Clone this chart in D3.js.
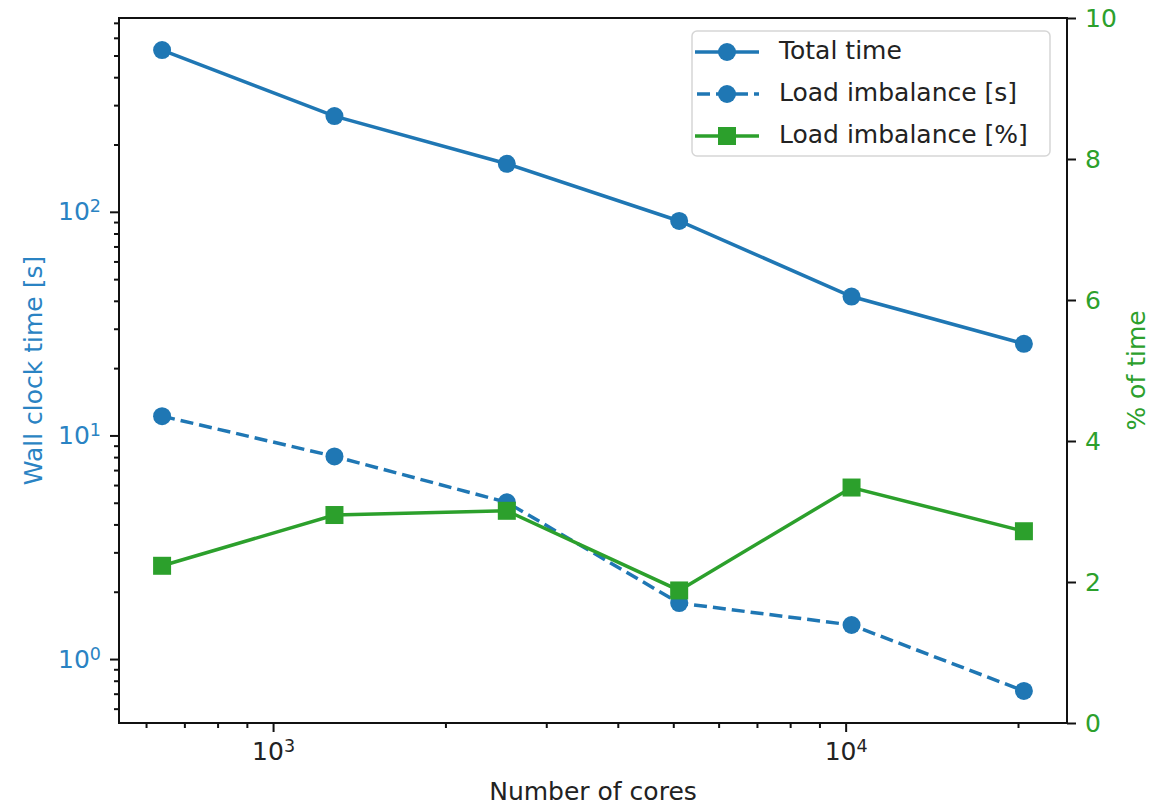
<!DOCTYPE html>
<html>
<head>
<meta charset="utf-8">
<script src="https://cdn.jsdelivr.net/npm/d3@7"></script>
<style>
  body { margin: 0; background: #fff; }
  text { font-family: "DejaVu Sans", sans-serif; }
</style>
</head>
<body>
<div class="chart"></div>
<script>
// ---------------------------------- DATA
var cores = [640, 1280, 2560, 5120, 10240, 20480];
var totalTime = [529, 268, 164, 91, 41.8, 25.7];
var imbalanceSec = [12.2, 8.06, 5.02, 1.78, 1.42, 0.72];
var imbalancePct = [2.23, 2.95, 3.01, 1.88, 3.34, 2.72];
var seriesNames = ["Total time", "Load imbalance [s]", "Load imbalance [%]"];
var xMajorTicks = [1000, 10000];
var leftMajorTicks = [1, 10, 100];
var rightTicks = [0, 2, 4, 6, 8, 10];

// ---------------------------------- VARIABLES
var width = 1153, height = 806;
var plot = {left: 119, right: 1067, top: 18, bottom: 723};
var blue = "#1f77b4", blueText = "#2a83c3", green = "#2ca02c";
var fontSize = 25;

// matplotlib-like 5% margins in log space
function logPad(vals) {
  var lo = Math.log10(d3.min(vals)), hi = Math.log10(d3.max(vals));
  var p = (hi - lo) * 0.05;
  return [Math.pow(10, lo - p), Math.pow(10, hi + p)];
}

var svg = d3.select(".chart").append("svg")
  .attr("width", width)
  .attr("height", height);

// ---------------------------------- SCALES
var x = d3.scaleLog().domain(logPad(cores)).range([plot.left, plot.right]);
var y = d3.scaleLog().domain(logPad(totalTime.concat(imbalanceSec))).range([plot.bottom, plot.top]);
var y2 = d3.scaleLinear().domain([0, 10]).range([plot.bottom, plot.top]);

function isPow10(v) {
  var l = Math.log10(v);
  return Math.abs(l - Math.round(l)) < 1e-9;
}

function superLabel(sel) {
  sel.each(function(d) {
    var t = d3.select(this);
    t.text("");
    t.append("tspan").text("10");
    t.append("tspan")
      .attr("dy", "-0.45em")
      .attr("font-size", "0.7em")
      .text(Math.round(Math.log10(d)));
  });
}

// ---------------------------------- AXES
// x axis major
var xAxisG = svg.append("g")
  .attr("transform", "translate(0," + plot.bottom + ")")
  .call(d3.axisBottom(x).tickValues(xMajorTicks).tickSize(9).tickPadding(10).tickSizeOuter(0));
xAxisG.selectAll("text").attr("fill", "#222").attr("font-size", fontSize).call(superLabel);
// x axis minor
svg.append("g")
  .attr("transform", "translate(0," + plot.bottom + ")")
  .call(d3.axisBottom(x).tickValues(x.ticks().filter(function(d){ return !isPow10(d); }))
    .tickSize(5).tickFormat("").tickSizeOuter(0));

// left axis major
var yAxisG = svg.append("g")
  .attr("transform", "translate(" + plot.left + ",0)")
  .call(d3.axisLeft(y).tickValues(leftMajorTicks).tickSize(9).tickPadding(9).tickSizeOuter(0));
yAxisG.selectAll("text").attr("fill", blueText).attr("font-size", fontSize).call(superLabel);
// left axis minor
svg.append("g")
  .attr("transform", "translate(" + plot.left + ",0)")
  .call(d3.axisLeft(y).tickValues(y.ticks().filter(function(d){ return !isPow10(d); }))
    .tickSize(5).tickFormat("").tickSizeOuter(0));

// right axis
var y2AxisG = svg.append("g")
  .attr("transform", "translate(" + plot.right + ",0)")
  .call(d3.axisRight(y2).tickValues(rightTicks).tickSize(9).tickPadding(9).tickSizeOuter(0));
y2AxisG.selectAll("text").attr("fill", green).attr("font-size", fontSize);

svg.selectAll(".domain").remove();
svg.selectAll(".tick line").attr("stroke", "#111").attr("stroke-width", 2);

// frame
svg.append("rect")
  .attr("x", plot.left).attr("y", plot.top)
  .attr("width", plot.right - plot.left).attr("height", plot.bottom - plot.top)
  .attr("fill", "none").attr("stroke", "#111").attr("stroke-width", 2);

// ---------------------------------- LINES
var lineLeft = d3.line()
  .x(function(d, i){ return x(cores[i]); })
  .y(function(d){ return y(d); });
var lineRight = d3.line()
  .x(function(d, i){ return x(cores[i]); })
  .y(function(d){ return y2(d); });

var plotG = svg.append("g");

plotG.append("path")
  .attr("d", lineLeft(totalTime))
  .attr("fill", "none").attr("stroke", blue).attr("stroke-width", 3.5);
plotG.selectAll("circle.total")
  .data(totalTime)
  .enter().append("circle")
    .attr("class", "total")
    .attr("cx", function(d, i){ return x(cores[i]); })
    .attr("cy", function(d){ return y(d); })
    .attr("r", 9)
    .attr("fill", blue);

plotG.append("path")
  .attr("d", lineLeft(imbalanceSec))
  .attr("fill", "none").attr("stroke", blue).attr("stroke-width", 3.5)
  .attr("stroke-dasharray", "13,6");
plotG.selectAll("circle.imb")
  .data(imbalanceSec)
  .enter().append("circle")
    .attr("class", "imb")
    .attr("cx", function(d, i){ return x(cores[i]); })
    .attr("cy", function(d){ return y(d); })
    .attr("r", 9)
    .attr("fill", blue);

plotG.append("path")
  .attr("d", lineRight(imbalancePct))
  .attr("fill", "none").attr("stroke", green).attr("stroke-width", 3.5);
plotG.selectAll("rect.pct")
  .data(imbalancePct)
  .enter().append("rect")
    .attr("class", "pct")
    .attr("x", function(d, i){ return x(cores[i]) - 9; })
    .attr("y", function(d){ return y2(d) - 9; })
    .attr("width", 18).attr("height", 18)
    .attr("fill", green);

// ---------------------------------- AXIS LABELS
svg.append("text")
  .attr("x", (plot.left + plot.right) / 2).attr("y", 800)
  .attr("text-anchor", "middle")
  .attr("font-size", fontSize).attr("fill", "#222")
  .text("Number of cores");

svg.append("text")
  .attr("transform", "translate(35," + (plot.top + plot.bottom) / 2 + ") rotate(-90)")
  .attr("text-anchor", "middle").attr("dominant-baseline", "middle")
  .attr("font-size", fontSize).attr("fill", blueText)
  .text("Wall clock time [s]");

svg.append("text")
  .attr("transform", "translate(1138," + (plot.top + plot.bottom) / 2 + ") rotate(-90)")
  .attr("text-anchor", "middle").attr("dominant-baseline", "middle")
  .attr("font-size", fontSize).attr("fill", green)
  .text("% of time");

// ---------------------------------- LEGEND
var legend = svg.append("g").attr("transform", "translate(692,31)");
legend.append("rect")
  .attr("width", 358).attr("height", 125).attr("rx", 5)
  .attr("fill", "#fff").attr("fill-opacity", 0.85)
  .attr("stroke", "#d6d6d6").attr("stroke-width", 1.5);

var legendStyles = [
  {color: blue, dash: null, marker: "circle"},
  {color: blue, dash: "13,6", marker: "circle"},
  {color: green, dash: null, marker: "square"}
];

var items = legend.selectAll("g.item")
  .data(seriesNames)
  .enter().append("g")
    .attr("class", "item")
    .attr("transform", function(d, i){ return "translate(0," + (21 + i * 42) + ")"; });

items.append("line")
  .attr("x1", 3).attr("x2", 67).attr("y1", 0).attr("y2", 0)
  .attr("stroke", function(d, i){ return legendStyles[i].color; })
  .attr("stroke-width", 3.5)
  .attr("stroke-dasharray", function(d, i){ return legendStyles[i].dash; })
  .attr("stroke-dashoffset", function(d, i){ return legendStyles[i].dash ? -2 : null; });

items.each(function(d, i) {
  var g = d3.select(this), s = legendStyles[i];
  if (s.marker === "circle") {
    g.append("circle").attr("cx", 35).attr("cy", 0).attr("r", 9).attr("fill", s.color);
  } else {
    g.append("rect").attr("x", 26).attr("y", -9).attr("width", 18).attr("height", 18).attr("fill", s.color);
  }
});

items.append("text")
  .attr("x", 87).attr("y", 0)
  .attr("dominant-baseline", "middle")
  .attr("font-size", fontSize).attr("fill", "#222")
  .text(function(d){ return d; });
</script>
</body>
</html>
